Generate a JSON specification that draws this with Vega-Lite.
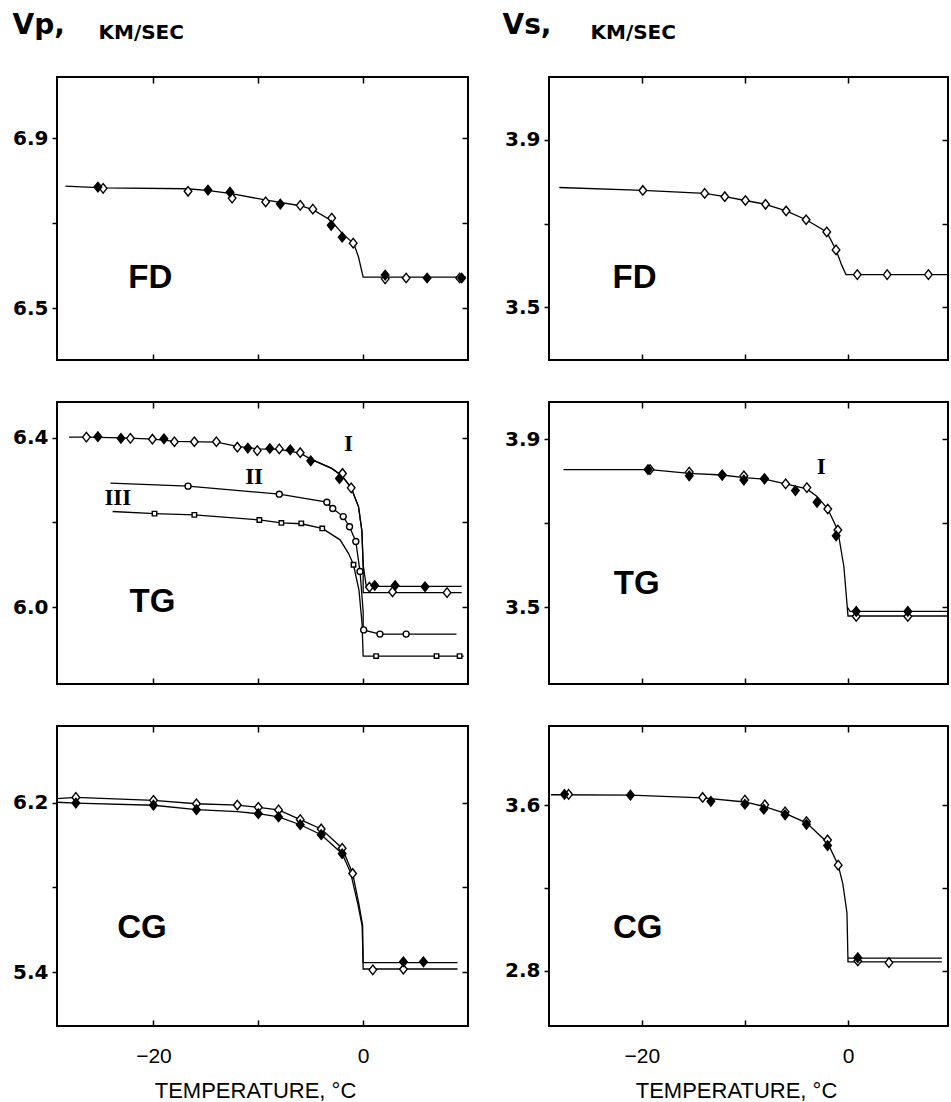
{
"$schema":"https://vega.github.io/schema/vega-lite/v6.json",
"background":"white",
"autosize":{"type":"none"},
"padding":{"left":57,"top":77,"right":894,"bottom":1025},
"config":{
 "view":{"stroke":"black","strokeWidth":2},
 "axis":{"domain":false,"grid":false,"tickColor":"black","tickWidth":1.5,"labelColor":"black","labelFont":"DejaVu Sans","labelFontSize":20,"labelFontWeight":"bold","titleColor":"black","titleFont":"DejaVu Sans"},
 "line":{"color":"black","strokeWidth":1.3},
 "point":{"filled":true,"stroke":"black","strokeWidth":1.4,"opacity":1,"size":90}
},
"datasets":{
"curves":[
{"p":"FD-Vp","s":"a","i":1,"x":-28.4,"y":6.787},{"p":"FD-Vp","s":"a","i":2,"x":-24.8,"y":6.783},{"p":"FD-Vp","s":"a","i":3,"x":-16.8,"y":6.781},{"p":"FD-Vp","s":"a","i":4,"x":-14.9,"y":6.777},{"p":"FD-Vp","s":"a","i":5,"x":-12.7,"y":6.770},{"p":"FD-Vp","s":"a","i":6,"x":-9.2,"y":6.754},{"p":"FD-Vp","s":"a","i":7,"x":-6.0,"y":6.741},{"p":"FD-Vp","s":"a","i":8,"x":-4.8,"y":6.732},{"p":"FD-Vp","s":"a","i":9,"x":-3.1,"y":6.707},{"p":"FD-Vp","s":"a","i":10,"x":-2.0,"y":6.676},{"p":"FD-Vp","s":"a","i":11,"x":-0.9,"y":6.652},{"p":"FD-Vp","s":"a","i":12,"x":-0.45,"y":6.621},{"p":"FD-Vp","s":"a","i":13,"x":0,"y":6.573},{"p":"FD-Vp","s":"a","i":14,"x":9.8,"y":6.573},
{"p":"FD-Vs","s":"a","i":1,"x":-28.0,"y":3.786},{"p":"FD-Vs","s":"a","i":2,"x":-19.9,"y":3.779},{"p":"FD-Vs","s":"a","i":3,"x":-13.9,"y":3.772},{"p":"FD-Vs","s":"a","i":4,"x":-11.95,"y":3.764},{"p":"FD-Vs","s":"a","i":5,"x":-9.95,"y":3.755},{"p":"FD-Vs","s":"a","i":6,"x":-8.0,"y":3.746},{"p":"FD-Vs","s":"a","i":7,"x":-6.0,"y":3.730},{"p":"FD-Vs","s":"a","i":8,"x":-4.06,"y":3.709},{"p":"FD-Vs","s":"a","i":9,"x":-2.06,"y":3.680},{"p":"FD-Vs","s":"a","i":10,"x":-1.16,"y":3.637},{"p":"FD-Vs","s":"a","i":11,"x":-0.6,"y":3.600},{"p":"FD-Vs","s":"a","i":12,"x":-0.2,"y":3.578},{"p":"FD-Vs","s":"a","i":13,"x":9.7,"y":3.578},
{"p":"TG-Vp","s":"Ia","i":1,"x":-28.05,"y":6.402},{"p":"TG-Vp","s":"Ia","i":2,"x":-26.4,"y":6.402},{"p":"TG-Vp","s":"Ia","i":3,"x":-23.0,"y":6.400},{"p":"TG-Vp","s":"Ia","i":4,"x":-20.0,"y":6.397},{"p":"TG-Vp","s":"Ia","i":5,"x":-18.0,"y":6.392},{"p":"TG-Vp","s":"Ia","i":6,"x":-14.0,"y":6.390},{"p":"TG-Vp","s":"Ia","i":7,"x":-12.0,"y":6.380},{"p":"TG-Vp","s":"Ia","i":8,"x":-10.0,"y":6.374},{"p":"TG-Vp","s":"Ia","i":9,"x":-8.0,"y":6.373},{"p":"TG-Vp","s":"Ia","i":10,"x":-6.0,"y":6.364},{"p":"TG-Vp","s":"Ia","i":11,"x":-5.0,"y":6.350},{"p":"TG-Vp","s":"Ia","i":12,"x":-3.0,"y":6.328},{"p":"TG-Vp","s":"Ia","i":13,"x":-2.0,"y":6.310},{"p":"TG-Vp","s":"Ia","i":14,"x":-1.14,"y":6.282},{"p":"TG-Vp","s":"Ia","i":15,"x":-0.44,"y":6.237},{"p":"TG-Vp","s":"Ia","i":16,"x":-0.12,"y":6.180},{"p":"TG-Vp","s":"Ia","i":17,"x":0,"y":6.100},{"p":"TG-Vp","s":"Ia","i":18,"x":0,"y":6.034},{"p":"TG-Vp","s":"Ia","i":19,"x":9.4,"y":6.034},
{"p":"TG-Vp","s":"Ib","i":1,"x":-5.0,"y":6.350},{"p":"TG-Vp","s":"Ib","i":2,"x":-3.0,"y":6.328},{"p":"TG-Vp","s":"Ib","i":3,"x":-2.0,"y":6.310},{"p":"TG-Vp","s":"Ib","i":4,"x":-1.14,"y":6.282},{"p":"TG-Vp","s":"Ib","i":5,"x":-0.44,"y":6.237},{"p":"TG-Vp","s":"Ib","i":6,"x":-0.12,"y":6.180},{"p":"TG-Vp","s":"Ib","i":7,"x":0,"y":6.100},{"p":"TG-Vp","s":"Ib","i":8,"x":0.3,"y":6.049},{"p":"TG-Vp","s":"Ib","i":9,"x":9.4,"y":6.049},
{"p":"TG-Vp","s":"II","i":1,"x":-24.1,"y":6.293},{"p":"TG-Vp","s":"II","i":2,"x":-16.7,"y":6.286},{"p":"TG-Vp","s":"II","i":3,"x":-8.0,"y":6.267},{"p":"TG-Vp","s":"II","i":4,"x":-3.46,"y":6.248},{"p":"TG-Vp","s":"II","i":5,"x":-2.9,"y":6.233},{"p":"TG-Vp","s":"II","i":6,"x":-1.9,"y":6.214},{"p":"TG-Vp","s":"II","i":7,"x":-1.3,"y":6.190},{"p":"TG-Vp","s":"II","i":8,"x":-0.7,"y":6.155},{"p":"TG-Vp","s":"II","i":9,"x":-0.3,"y":6.084},{"p":"TG-Vp","s":"II","i":10,"x":0,"y":5.990},{"p":"TG-Vp","s":"II","i":11,"x":0,"y":5.946},{"p":"TG-Vp","s":"II","i":12,"x":1.6,"y":5.936},{"p":"TG-Vp","s":"II","i":13,"x":8.9,"y":5.936},
{"p":"TG-Vp","s":"III","i":1,"x":-23.9,"y":6.226},{"p":"TG-Vp","s":"III","i":2,"x":-19.9,"y":6.221},{"p":"TG-Vp","s":"III","i":3,"x":-16.1,"y":6.218},{"p":"TG-Vp","s":"III","i":4,"x":-9.9,"y":6.206},{"p":"TG-Vp","s":"III","i":5,"x":-7.8,"y":6.199},{"p":"TG-Vp","s":"III","i":6,"x":-5.9,"y":6.197},{"p":"TG-Vp","s":"III","i":7,"x":-3.9,"y":6.186},{"p":"TG-Vp","s":"III","i":8,"x":-2.2,"y":6.159},{"p":"TG-Vp","s":"III","i":9,"x":-1.4,"y":6.127},{"p":"TG-Vp","s":"III","i":10,"x":-0.92,"y":6.100},{"p":"TG-Vp","s":"III","i":11,"x":-0.4,"y":6.040},{"p":"TG-Vp","s":"III","i":12,"x":-0.1,"y":5.960},{"p":"TG-Vp","s":"III","i":13,"x":0,"y":5.884},{"p":"TG-Vp","s":"III","i":14,"x":9.6,"y":5.884},
{"p":"TG-Vs","s":"Ia","i":1,"x":-27.6,"y":3.828},{"p":"TG-Vs","s":"Ia","i":2,"x":-19.2,"y":3.828},{"p":"TG-Vs","s":"Ia","i":3,"x":-15.4,"y":3.819},{"p":"TG-Vs","s":"Ia","i":4,"x":-12.2,"y":3.815},{"p":"TG-Vs","s":"Ia","i":5,"x":-10.1,"y":3.809},{"p":"TG-Vs","s":"Ia","i":6,"x":-8.1,"y":3.805},{"p":"TG-Vs","s":"Ia","i":7,"x":-6.05,"y":3.794},{"p":"TG-Vs","s":"Ia","i":8,"x":-4.0,"y":3.782},{"p":"TG-Vs","s":"Ia","i":9,"x":-3.0,"y":3.764},{"p":"TG-Vs","s":"Ia","i":10,"x":-1.96,"y":3.734},{"p":"TG-Vs","s":"Ia","i":11,"x":-1.0,"y":3.684},{"p":"TG-Vs","s":"Ia","i":12,"x":-0.4,"y":3.597},{"p":"TG-Vs","s":"Ia","i":13,"x":-0.07,"y":3.500},{"p":"TG-Vs","s":"Ia","i":14,"x":0,"y":3.479},{"p":"TG-Vs","s":"Ia","i":15,"x":9.7,"y":3.479},
{"p":"TG-Vs","s":"Ib","i":1,"x":-0.07,"y":3.500},{"p":"TG-Vs","s":"Ib","i":2,"x":0.2,"y":3.490},{"p":"TG-Vs","s":"Ib","i":3,"x":9.7,"y":3.490},
{"p":"CG-Vp","s":"a","i":1,"x":-29.2,"y":6.219},{"p":"CG-Vp","s":"a","i":2,"x":-27.4,"y":6.225},{"p":"CG-Vp","s":"a","i":3,"x":-20.0,"y":6.211},{"p":"CG-Vp","s":"a","i":4,"x":-15.9,"y":6.195},{"p":"CG-Vp","s":"a","i":5,"x":-12.0,"y":6.189},{"p":"CG-Vp","s":"a","i":6,"x":-10.0,"y":6.178},{"p":"CG-Vp","s":"a","i":7,"x":-8.07,"y":6.166},{"p":"CG-Vp","s":"a","i":8,"x":-6.0,"y":6.120},{"p":"CG-Vp","s":"a","i":9,"x":-4.0,"y":6.076},{"p":"CG-Vp","s":"a","i":10,"x":-2.0,"y":5.985},{"p":"CG-Vp","s":"a","i":11,"x":-1.0,"y":5.866},{"p":"CG-Vp","s":"a","i":12,"x":-0.4,"y":5.720},{"p":"CG-Vp","s":"a","i":13,"x":-0.05,"y":5.620},{"p":"CG-Vp","s":"a","i":14,"x":0,"y":5.415},{"p":"CG-Vp","s":"a","i":15,"x":9.0,"y":5.415},
{"p":"CG-Vp","s":"b","i":1,"x":-29.2,"y":6.202},{"p":"CG-Vp","s":"b","i":2,"x":-27.4,"y":6.198},{"p":"CG-Vp","s":"b","i":3,"x":-20.0,"y":6.188},{"p":"CG-Vp","s":"b","i":4,"x":-15.9,"y":6.167},{"p":"CG-Vp","s":"b","i":5,"x":-12.0,"y":6.158},{"p":"CG-Vp","s":"b","i":6,"x":-10.0,"y":6.148},{"p":"CG-Vp","s":"b","i":7,"x":-8.07,"y":6.133},{"p":"CG-Vp","s":"b","i":8,"x":-6.0,"y":6.096},{"p":"CG-Vp","s":"b","i":9,"x":-4.0,"y":6.049},{"p":"CG-Vp","s":"b","i":10,"x":-2.0,"y":5.959},{"p":"CG-Vp","s":"b","i":11,"x":-1.2,"y":5.870},{"p":"CG-Vp","s":"b","i":12,"x":-0.5,"y":5.720},{"p":"CG-Vp","s":"b","i":13,"x":-0.1,"y":5.620},{"p":"CG-Vp","s":"b","i":14,"x":0,"y":5.445},{"p":"CG-Vp","s":"b","i":15,"x":9.0,"y":5.445},
{"p":"CG-Vs","s":"a","i":1,"x":-28.8,"y":3.652},{"p":"CG-Vs","s":"a","i":2,"x":-21.1,"y":3.650},{"p":"CG-Vs","s":"a","i":3,"x":-14.1,"y":3.637},{"p":"CG-Vs","s":"a","i":4,"x":-10.0,"y":3.617},{"p":"CG-Vs","s":"a","i":5,"x":-8.07,"y":3.594},{"p":"CG-Vs","s":"a","i":6,"x":-6.1,"y":3.562},{"p":"CG-Vs","s":"a","i":7,"x":-4.03,"y":3.516},{"p":"CG-Vs","s":"a","i":8,"x":-1.98,"y":3.420},{"p":"CG-Vs","s":"a","i":9,"x":-0.95,"y":3.311},{"p":"CG-Vs","s":"a","i":10,"x":-0.5,"y":3.220},{"p":"CG-Vs","s":"a","i":11,"x":-0.1,"y":3.080},{"p":"CG-Vs","s":"a","i":12,"x":0,"y":2.843},{"p":"CG-Vs","s":"a","i":13,"x":9.1,"y":2.843},
{"p":"CG-Vs","s":"b","i":1,"x":0,"y":2.861},{"p":"CG-Vs","s":"b","i":2,"x":9.1,"y":2.861}
],
"points":[
{"p":"FD-Vp","m":"o","x":-24.8,"y":6.782},{"p":"FD-Vp","m":"o","x":-16.7,"y":6.775},{"p":"FD-Vp","m":"o","x":-12.5,"y":6.759},{"p":"FD-Vp","m":"o","x":-9.3,"y":6.750},{"p":"FD-Vp","m":"o","x":-6.0,"y":6.742},{"p":"FD-Vp","m":"o","x":-4.8,"y":6.733},{"p":"FD-Vp","m":"o","x":-3.0,"y":6.712},{"p":"FD-Vp","m":"o","x":-0.95,"y":6.653},{"p":"FD-Vp","m":"o","x":2.1,"y":6.569},{"p":"FD-Vp","m":"o","x":4.1,"y":6.571},{"p":"FD-Vp","m":"o","x":9.2,"y":6.571},
{"p":"FD-Vp","m":"f","x":-25.3,"y":6.785},{"p":"FD-Vp","m":"f","x":-14.8,"y":6.778},{"p":"FD-Vp","m":"f","x":-12.7,"y":6.773},{"p":"FD-Vp","m":"f","x":-7.9,"y":6.745},{"p":"FD-Vp","m":"f","x":-3.05,"y":6.695},{"p":"FD-Vp","m":"f","x":-2.0,"y":6.667},{"p":"FD-Vp","m":"f","x":2.1,"y":6.578},{"p":"FD-Vp","m":"f","x":6.1,"y":6.571},{"p":"FD-Vp","m":"f","x":9.4,"y":6.571},
{"p":"FD-Vs","m":"o","x":-19.9,"y":3.779},{"p":"FD-Vs","m":"o","x":-13.9,"y":3.772},{"p":"FD-Vs","m":"o","x":-11.95,"y":3.764},{"p":"FD-Vs","m":"o","x":-9.95,"y":3.755},{"p":"FD-Vs","m":"o","x":-8.0,"y":3.746},{"p":"FD-Vs","m":"o","x":-6.0,"y":3.730},{"p":"FD-Vs","m":"o","x":-4.06,"y":3.709},{"p":"FD-Vs","m":"o","x":-2.06,"y":3.680},{"p":"FD-Vs","m":"o","x":-1.16,"y":3.637},{"p":"FD-Vs","m":"o","x":0.9,"y":3.578},{"p":"FD-Vs","m":"o","x":3.8,"y":3.578},{"p":"FD-Vs","m":"o","x":7.8,"y":3.578},
{"p":"TG-Vp","m":"o","x":-26.4,"y":6.402},{"p":"TG-Vp","m":"o","x":-22.2,"y":6.399},{"p":"TG-Vp","m":"o","x":-20.1,"y":6.397},{"p":"TG-Vp","m":"o","x":-18.0,"y":6.391},{"p":"TG-Vp","m":"o","x":-16.1,"y":6.391},{"p":"TG-Vp","m":"o","x":-14.0,"y":6.391},{"p":"TG-Vp","m":"o","x":-12.0,"y":6.378},{"p":"TG-Vp","m":"o","x":-10.1,"y":6.370},{"p":"TG-Vp","m":"o","x":-8.0,"y":6.374},{"p":"TG-Vp","m":"o","x":-6.0,"y":6.365},{"p":"TG-Vp","m":"o","x":-1.97,"y":6.316},{"p":"TG-Vp","m":"o","x":-1.14,"y":6.282},{"p":"TG-Vp","m":"o","x":0.6,"y":6.047},{"p":"TG-Vp","m":"o","x":2.8,"y":6.036},{"p":"TG-Vp","m":"o","x":8.0,"y":6.034},
{"p":"TG-Vp","m":"f","x":-25.3,"y":6.403},{"p":"TG-Vp","m":"f","x":-23.1,"y":6.399},{"p":"TG-Vp","m":"f","x":-19.0,"y":6.398},{"p":"TG-Vp","m":"f","x":-11.0,"y":6.376},{"p":"TG-Vp","m":"f","x":-8.9,"y":6.375},{"p":"TG-Vp","m":"f","x":-6.95,"y":6.372},{"p":"TG-Vp","m":"f","x":-5.0,"y":6.346},{"p":"TG-Vp","m":"f","x":-2.26,"y":6.304},{"p":"TG-Vp","m":"f","x":1.1,"y":6.051},{"p":"TG-Vp","m":"f","x":3.05,"y":6.051},{"p":"TG-Vp","m":"f","x":5.9,"y":6.048},
{"p":"TG-Vp","m":"c","x":-16.7,"y":6.286},{"p":"TG-Vp","m":"c","x":-8.0,"y":6.267},{"p":"TG-Vp","m":"c","x":-3.46,"y":6.248},{"p":"TG-Vp","m":"c","x":-2.9,"y":6.233},{"p":"TG-Vp","m":"c","x":-1.9,"y":6.214},{"p":"TG-Vp","m":"c","x":-1.3,"y":6.190},{"p":"TG-Vp","m":"c","x":-0.7,"y":6.155},{"p":"TG-Vp","m":"c","x":-0.3,"y":6.084},{"p":"TG-Vp","m":"c","x":0.05,"y":5.946},{"p":"TG-Vp","m":"c","x":1.6,"y":5.936},{"p":"TG-Vp","m":"c","x":4.1,"y":5.936},
{"p":"TG-Vp","m":"q","x":-19.9,"y":6.221},{"p":"TG-Vp","m":"q","x":-16.1,"y":6.218},{"p":"TG-Vp","m":"q","x":-9.9,"y":6.206},{"p":"TG-Vp","m":"q","x":-7.8,"y":6.199},{"p":"TG-Vp","m":"q","x":-5.9,"y":6.198},{"p":"TG-Vp","m":"q","x":-3.9,"y":6.186},{"p":"TG-Vp","m":"q","x":-0.92,"y":6.100},{"p":"TG-Vp","m":"q","x":1.24,"y":5.884},{"p":"TG-Vp","m":"q","x":7.0,"y":5.884},{"p":"TG-Vp","m":"q","x":9.2,"y":5.884},
{"p":"TG-Vs","m":"o","x":-19.2,"y":3.828},{"p":"TG-Vs","m":"o","x":-15.4,"y":3.822},{"p":"TG-Vs","m":"o","x":-12.2,"y":3.815},{"p":"TG-Vs","m":"o","x":-10.1,"y":3.813},{"p":"TG-Vs","m":"o","x":-8.1,"y":3.806},{"p":"TG-Vs","m":"o","x":-6.05,"y":3.794},{"p":"TG-Vs","m":"o","x":-3.99,"y":3.785},{"p":"TG-Vs","m":"o","x":-1.96,"y":3.734},{"p":"TG-Vs","m":"o","x":-0.98,"y":3.684},{"p":"TG-Vs","m":"o","x":0.8,"y":3.478},{"p":"TG-Vs","m":"o","x":5.8,"y":3.478},
{"p":"TG-Vs","m":"f","x":-19.4,"y":3.828},{"p":"TG-Vs","m":"f","x":-15.4,"y":3.813},{"p":"TG-Vs","m":"f","x":-12.2,"y":3.815},{"p":"TG-Vs","m":"f","x":-10.1,"y":3.803},{"p":"TG-Vs","m":"f","x":-8.1,"y":3.806},{"p":"TG-Vs","m":"f","x":-5.1,"y":3.778},{"p":"TG-Vs","m":"f","x":-3.0,"y":3.750},{"p":"TG-Vs","m":"f","x":-1.15,"y":3.670},{"p":"TG-Vs","m":"f","x":0.8,"y":3.490},{"p":"TG-Vs","m":"f","x":5.8,"y":3.490},
{"p":"CG-Vp","m":"o","x":-27.4,"y":6.225},{"p":"CG-Vp","m":"o","x":-20.0,"y":6.211},{"p":"CG-Vp","m":"o","x":-15.9,"y":6.195},{"p":"CG-Vp","m":"o","x":-12.0,"y":6.189},{"p":"CG-Vp","m":"o","x":-10.0,"y":6.178},{"p":"CG-Vp","m":"o","x":-8.07,"y":6.166},{"p":"CG-Vp","m":"o","x":-6.0,"y":6.120},{"p":"CG-Vp","m":"o","x":-4.0,"y":6.076},{"p":"CG-Vp","m":"o","x":-2.0,"y":5.985},{"p":"CG-Vp","m":"o","x":-1.0,"y":5.866},{"p":"CG-Vp","m":"o","x":0.92,"y":5.411},{"p":"CG-Vp","m":"o","x":3.84,"y":5.414},
{"p":"CG-Vp","m":"f","x":-27.4,"y":6.198},{"p":"CG-Vp","m":"f","x":-20.0,"y":6.188},{"p":"CG-Vp","m":"f","x":-15.9,"y":6.167},{"p":"CG-Vp","m":"f","x":-10.0,"y":6.148},{"p":"CG-Vp","m":"f","x":-8.07,"y":6.133},{"p":"CG-Vp","m":"f","x":-6.0,"y":6.096},{"p":"CG-Vp","m":"f","x":-4.0,"y":6.049},{"p":"CG-Vp","m":"f","x":-2.0,"y":5.959},{"p":"CG-Vp","m":"f","x":3.84,"y":5.449},{"p":"CG-Vp","m":"f","x":5.75,"y":5.449},
{"p":"CG-Vs","m":"o","x":-27.1,"y":3.654},{"p":"CG-Vs","m":"o","x":-14.1,"y":3.639},{"p":"CG-Vs","m":"o","x":-10.0,"y":3.626},{"p":"CG-Vs","m":"o","x":-8.07,"y":3.603},{"p":"CG-Vs","m":"o","x":-6.1,"y":3.569},{"p":"CG-Vs","m":"o","x":-4.03,"y":3.522},{"p":"CG-Vs","m":"o","x":-1.98,"y":3.433},{"p":"CG-Vs","m":"o","x":-0.95,"y":3.311},{"p":"CG-Vs","m":"o","x":0.95,"y":2.847},{"p":"CG-Vs","m":"o","x":3.97,"y":2.839},
{"p":"CG-Vs","m":"f","x":-27.5,"y":3.654},{"p":"CG-Vs","m":"f","x":-21.1,"y":3.650},{"p":"CG-Vs","m":"f","x":-13.3,"y":3.620},{"p":"CG-Vs","m":"f","x":-10.0,"y":3.606},{"p":"CG-Vs","m":"f","x":-8.17,"y":3.582},{"p":"CG-Vs","m":"f","x":-6.1,"y":3.555},{"p":"CG-Vs","m":"f","x":-4.03,"y":3.509},{"p":"CG-Vs","m":"f","x":-1.98,"y":3.406},{"p":"CG-Vs","m":"f","x":0.95,"y":2.863}
],
"labels":[
{"p":"FD-Vp","k":"n","t":"FD","x":-20.3,"y":6.570},
{"p":"FD-Vs","k":"n","t":"FD","x":-20.7,"y":3.571},
{"p":"TG-Vp","k":"n","t":"TG","x":-20.1,"y":6.011},
{"p":"TG-Vp","k":"r","t":"I","x":-1.4,"y":6.386},
{"p":"TG-Vp","k":"r","t":"II","x":-10.4,"y":6.308},
{"p":"TG-Vp","k":"r","t":"III","x":-23.4,"y":6.258},
{"p":"TG-Vs","k":"n","t":"TG","x":-20.5,"y":3.555},
{"p":"TG-Vs","k":"r","t":"I","x":-2.6,"y":3.835},
{"p":"CG-Vp","k":"n","t":"CG","x":-21.1,"y":5.610},
{"p":"CG-Vs","k":"n","t":"CG","x":-20.4,"y":3.005}
]
},
"columns":2,
"spacing":{"row":42,"column":81},
"bounds":"flush",
"align":"each",
"concat":[
{"width":411,"height":283,
 "layer":[
  {"data":{"name":"curves"},"transform":[{"filter":"datum.p==='FD-Vp'"}],"mark":{"type":"line"},
   "encoding":{"x":{"field":"x","type":"quantitative","scale":{"domain":[-29.2,10],"nice":false,"zero":false},"axis":{"orient":"bottom","values":[-20,-10,0],"labels":false,"tickSize":-6,"title":null}},
    "y":{"field":"y","type":"quantitative","scale":{"domain":[6.378,7.044],"nice":false,"zero":false},"axis":{"orient":"left","values":[6.5,6.7,6.9],"labelExpr":"abs(datum.value-6.7)<0.01?'':format(datum.value,'.1f')","tickSize":5,"labelPadding":4,"title":"Vp,","titleAngle":0,"titleX":-45,"titleY":-44,"titleAlign":"left","titleBaseline":"alphabetic","titleFontSize":28,"titleFontWeight":"bold"}},
    "detail":{"field":"s"},"order":{"field":"i","type":"quantitative"}}},
  {"data":{"name":"points"},"transform":[{"filter":"datum.p==='FD-Vp'"}],"mark":{"type":"point"},
   "encoding":{"x":{"field":"x","type":"quantitative","scale":{"domain":[-29.2,10],"nice":false,"zero":false},"axis":{"orient":"top","values":[-20,-10,0],"labels":false,"tickSize":-6,"title":"KM/SEC","titleX":41,"titleY":-39,"titleAlign":"left","titleBaseline":"alphabetic","titleFontSize":20,"titleFontWeight":"bold","titleAngle":0}},
    "y":{"field":"y","type":"quantitative","scale":{"domain":[6.378,7.044],"nice":false,"zero":false},"axis":{"orient":"right","values":[6.5,6.7,6.9],"labels":false,"tickSize":-6,"title":null}},
    "shape":{"field":"m","type":"nominal","scale":{"domain":["o","f","c","q"],"range":["M-0.8,0L0,-1L0.8,0L0,1Z","M-0.8,0L0,-1L0.8,0L0,1Z","M0.63,0A0.63,0.63,0,1,1,-0.63,0A0.63,0.63,0,1,1,0.63,0Z","M-0.47,-0.47L0.47,-0.47L0.47,0.47L-0.47,0.47Z"]},"legend":null},
    "fill":{"field":"m","type":"nominal","scale":{"domain":["o","f","c","q"],"range":["white","black","white","white"]},"legend":null}}},
  {"data":{"name":"labels"},"transform":[{"filter":"datum.p==='FD-Vp' && datum.k==='n'"}],"mark":{"type":"text","font":"Liberation Sans","fontWeight":"bold","fontSize":33,"color":"black"},
   "encoding":{"x":{"field":"x","type":"quantitative","scale":{"domain":[-29.2,10],"nice":false,"zero":false},"axis":null},"y":{"field":"y","type":"quantitative","scale":{"domain":[6.378,7.044],"nice":false,"zero":false},"axis":null},"text":{"field":"t"}}}
 ],
 "resolve":{"axis":{"x":"independent","y":"independent"}}},
{"width":399,"height":283,
 "layer":[
  {"data":{"name":"curves"},"transform":[{"filter":"datum.p==='FD-Vs'"}],"mark":{"type":"line"},
   "encoding":{"x":{"field":"x","type":"quantitative","scale":{"domain":[-29,9.7],"nice":false,"zero":false},"axis":{"orient":"bottom","values":[-20,-10,0],"labels":false,"tickSize":-6,"title":null}},
    "y":{"field":"y","type":"quantitative","scale":{"domain":[3.374,4.05],"nice":false,"zero":false},"axis":{"orient":"left","values":[3.5,3.7,3.9],"labelExpr":"abs(datum.value-3.7)<0.01?'':format(datum.value,'.1f')","tickSize":5,"labelPadding":4,"title":"Vs,","titleAngle":0,"titleX":-47,"titleY":-44,"titleAlign":"left","titleBaseline":"alphabetic","titleFontSize":28,"titleFontWeight":"bold"}},
    "detail":{"field":"s"},"order":{"field":"i","type":"quantitative"}}},
  {"data":{"name":"points"},"transform":[{"filter":"datum.p==='FD-Vs'"}],"mark":{"type":"point"},
   "encoding":{"x":{"field":"x","type":"quantitative","scale":{"domain":[-29,9.7],"nice":false,"zero":false},"axis":{"orient":"top","values":[-20,-10,0],"labels":false,"tickSize":-6,"title":"KM/SEC","titleX":41,"titleY":-39,"titleAlign":"left","titleBaseline":"alphabetic","titleFontSize":20,"titleFontWeight":"bold","titleAngle":0}},
    "y":{"field":"y","type":"quantitative","scale":{"domain":[3.374,4.05],"nice":false,"zero":false},"axis":{"orient":"right","values":[3.5,3.7,3.9],"labels":false,"tickSize":-6,"title":null}},
    "shape":{"field":"m","type":"nominal","scale":{"domain":["o","f","c","q"],"range":["M-0.8,0L0,-1L0.8,0L0,1Z","M-0.8,0L0,-1L0.8,0L0,1Z","M0.63,0A0.63,0.63,0,1,1,-0.63,0A0.63,0.63,0,1,1,0.63,0Z","M-0.47,-0.47L0.47,-0.47L0.47,0.47L-0.47,0.47Z"]},"legend":null},
    "fill":{"field":"m","type":"nominal","scale":{"domain":["o","f","c","q"],"range":["white","black","white","white"]},"legend":null}}},
  {"data":{"name":"labels"},"transform":[{"filter":"datum.p==='FD-Vs' && datum.k==='n'"}],"mark":{"type":"text","font":"Liberation Sans","fontWeight":"bold","fontSize":33,"color":"black"},
   "encoding":{"x":{"field":"x","type":"quantitative","scale":{"domain":[-29,9.7],"nice":false,"zero":false},"axis":null},"y":{"field":"y","type":"quantitative","scale":{"domain":[3.374,4.05],"nice":false,"zero":false},"axis":null},"text":{"field":"t"}}}
 ],
 "resolve":{"axis":{"x":"independent","y":"independent"}}},
{"width":411,"height":282,
 "layer":[
  {"data":{"name":"curves"},"transform":[{"filter":"datum.p==='TG-Vp'"}],"mark":{"type":"line"},
   "encoding":{"x":{"field":"x","type":"quantitative","scale":{"domain":[-29.2,10],"nice":false,"zero":false},"axis":{"orient":"bottom","values":[-20,-10,0],"labels":false,"tickSize":-6,"title":null}},
    "y":{"field":"y","type":"quantitative","scale":{"domain":[5.818,6.485],"nice":false,"zero":false},"axis":{"orient":"left","values":[6.0,6.2,6.4],"labelExpr":"abs(datum.value-6.2)<0.01?'':format(datum.value,'.1f')","tickSize":5,"labelPadding":4,"title":null}},
    "detail":{"field":"s"},"order":{"field":"i","type":"quantitative"}}},
  {"data":{"name":"points"},"transform":[{"filter":"datum.p==='TG-Vp'"}],"mark":{"type":"point"},
   "encoding":{"x":{"field":"x","type":"quantitative","scale":{"domain":[-29.2,10],"nice":false,"zero":false},"axis":{"orient":"top","values":[-20,-10,0],"labels":false,"tickSize":-6,"title":null}},
    "y":{"field":"y","type":"quantitative","scale":{"domain":[5.818,6.485],"nice":false,"zero":false},"axis":{"orient":"right","values":[6.0,6.2,6.4],"labels":false,"tickSize":-6,"title":null}},
    "shape":{"field":"m","type":"nominal","scale":{"domain":["o","f","c","q"],"range":["M-0.8,0L0,-1L0.8,0L0,1Z","M-0.8,0L0,-1L0.8,0L0,1Z","M0.63,0A0.63,0.63,0,1,1,-0.63,0A0.63,0.63,0,1,1,0.63,0Z","M-0.47,-0.47L0.47,-0.47L0.47,0.47L-0.47,0.47Z"]},"legend":null},
    "fill":{"field":"m","type":"nominal","scale":{"domain":["o","f","c","q"],"range":["white","black","white","white"]},"legend":null}}},
  {"data":{"name":"labels"},"transform":[{"filter":"datum.p==='TG-Vp' && datum.k==='n'"}],"mark":{"type":"text","font":"Liberation Sans","fontWeight":"bold","fontSize":33,"color":"black"},
   "encoding":{"x":{"field":"x","type":"quantitative","scale":{"domain":[-29.2,10],"nice":false,"zero":false},"axis":null},"y":{"field":"y","type":"quantitative","scale":{"domain":[5.818,6.485],"nice":false,"zero":false},"axis":null},"text":{"field":"t"}}},
  {"data":{"name":"labels"},"transform":[{"filter":"datum.p==='TG-Vp' && datum.k==='r'"}],"mark":{"type":"text","font":"Liberation Serif","fontWeight":"bold","fontSize":23,"color":"black"},
   "encoding":{"x":{"field":"x","type":"quantitative","scale":{"domain":[-29.2,10],"nice":false,"zero":false},"axis":null},"y":{"field":"y","type":"quantitative","scale":{"domain":[5.818,6.485],"nice":false,"zero":false},"axis":null},"text":{"field":"t"}}}
 ],
 "resolve":{"axis":{"x":"independent","y":"independent"}}},
{"width":399,"height":282,
 "layer":[
  {"data":{"name":"curves"},"transform":[{"filter":"datum.p==='TG-Vs'"}],"mark":{"type":"line"},
   "encoding":{"x":{"field":"x","type":"quantitative","scale":{"domain":[-29,9.7],"nice":false,"zero":false},"axis":{"orient":"bottom","values":[-20,-10,0],"labels":false,"tickSize":-6,"title":null}},
    "y":{"field":"y","type":"quantitative","scale":{"domain":[3.317,3.989],"nice":false,"zero":false},"axis":{"orient":"left","values":[3.5,3.7,3.9],"labelExpr":"abs(datum.value-3.7)<0.01?'':format(datum.value,'.1f')","tickSize":5,"labelPadding":4,"title":null}},
    "detail":{"field":"s"},"order":{"field":"i","type":"quantitative"}}},
  {"data":{"name":"points"},"transform":[{"filter":"datum.p==='TG-Vs'"}],"mark":{"type":"point"},
   "encoding":{"x":{"field":"x","type":"quantitative","scale":{"domain":[-29,9.7],"nice":false,"zero":false},"axis":{"orient":"top","values":[-20,-10,0],"labels":false,"tickSize":-6,"title":null}},
    "y":{"field":"y","type":"quantitative","scale":{"domain":[3.317,3.989],"nice":false,"zero":false},"axis":{"orient":"right","values":[3.5,3.7,3.9],"labels":false,"tickSize":-6,"title":null}},
    "shape":{"field":"m","type":"nominal","scale":{"domain":["o","f","c","q"],"range":["M-0.8,0L0,-1L0.8,0L0,1Z","M-0.8,0L0,-1L0.8,0L0,1Z","M0.63,0A0.63,0.63,0,1,1,-0.63,0A0.63,0.63,0,1,1,0.63,0Z","M-0.47,-0.47L0.47,-0.47L0.47,0.47L-0.47,0.47Z"]},"legend":null},
    "fill":{"field":"m","type":"nominal","scale":{"domain":["o","f","c","q"],"range":["white","black","white","white"]},"legend":null}}},
  {"data":{"name":"labels"},"transform":[{"filter":"datum.p==='TG-Vs' && datum.k==='n'"}],"mark":{"type":"text","font":"Liberation Sans","fontWeight":"bold","fontSize":33,"color":"black"},
   "encoding":{"x":{"field":"x","type":"quantitative","scale":{"domain":[-29,9.7],"nice":false,"zero":false},"axis":null},"y":{"field":"y","type":"quantitative","scale":{"domain":[3.317,3.989],"nice":false,"zero":false},"axis":null},"text":{"field":"t"}}},
  {"data":{"name":"labels"},"transform":[{"filter":"datum.p==='TG-Vs' && datum.k==='r'"}],"mark":{"type":"text","font":"Liberation Serif","fontWeight":"bold","fontSize":23,"color":"black"},
   "encoding":{"x":{"field":"x","type":"quantitative","scale":{"domain":[-29,9.7],"nice":false,"zero":false},"axis":null},"y":{"field":"y","type":"quantitative","scale":{"domain":[3.317,3.989],"nice":false,"zero":false},"axis":null},"text":{"field":"t"}}}
 ],
 "resolve":{"axis":{"x":"independent","y":"independent"}}},
{"width":411,"height":300,
 "layer":[
  {"data":{"name":"curves"},"transform":[{"filter":"datum.p==='CG-Vp'"}],"mark":{"type":"line"},
   "encoding":{"x":{"field":"x","type":"quantitative","scale":{"domain":[-29.2,10],"nice":false,"zero":false},"axis":{"orient":"bottom","values":[-20,-10,0],"labelExpr":"datum.value==-10?'':(datum.value<0?'−'+abs(datum.value):''+datum.value)","tickSize":-6,"labelPadding":25,"labelFont":"Liberation Sans","labelFontWeight":"normal","labelFontSize":21,"title":"TEMPERATURE, °C","titleFont":"Liberation Sans","titleFontWeight":"normal","titleFontSize":22,"titleX":198,"titleY":54,"titleAlign":"center","titleBaseline":"top"}},
    "y":{"field":"y","type":"quantitative","scale":{"domain":[5.146,6.562],"nice":false,"zero":false},"axis":{"orient":"left","values":[5.4,5.8,6.2],"labelExpr":"abs(datum.value-5.8)<0.01?'':format(datum.value,'.1f')","tickSize":5,"labelPadding":4,"title":null}},
    "detail":{"field":"s"},"order":{"field":"i","type":"quantitative"}}},
  {"data":{"name":"points"},"transform":[{"filter":"datum.p==='CG-Vp'"}],"mark":{"type":"point"},
   "encoding":{"x":{"field":"x","type":"quantitative","scale":{"domain":[-29.2,10],"nice":false,"zero":false},"axis":{"orient":"top","values":[-20,-10,0],"labels":false,"tickSize":-6,"title":null}},
    "y":{"field":"y","type":"quantitative","scale":{"domain":[5.146,6.562],"nice":false,"zero":false},"axis":{"orient":"right","values":[5.4,5.8,6.2],"labels":false,"tickSize":-6,"title":null}},
    "shape":{"field":"m","type":"nominal","scale":{"domain":["o","f","c","q"],"range":["M-0.8,0L0,-1L0.8,0L0,1Z","M-0.8,0L0,-1L0.8,0L0,1Z","M0.63,0A0.63,0.63,0,1,1,-0.63,0A0.63,0.63,0,1,1,0.63,0Z","M-0.47,-0.47L0.47,-0.47L0.47,0.47L-0.47,0.47Z"]},"legend":null},
    "fill":{"field":"m","type":"nominal","scale":{"domain":["o","f","c","q"],"range":["white","black","white","white"]},"legend":null}}},
  {"data":{"name":"labels"},"transform":[{"filter":"datum.p==='CG-Vp' && datum.k==='n'"}],"mark":{"type":"text","font":"Liberation Sans","fontWeight":"bold","fontSize":33,"color":"black"},
   "encoding":{"x":{"field":"x","type":"quantitative","scale":{"domain":[-29.2,10],"nice":false,"zero":false},"axis":null},"y":{"field":"y","type":"quantitative","scale":{"domain":[5.146,6.562],"nice":false,"zero":false},"axis":null},"text":{"field":"t"}}}
 ],
 "resolve":{"axis":{"x":"independent","y":"independent"}}},
{"width":399,"height":300,
 "layer":[
  {"data":{"name":"curves"},"transform":[{"filter":"datum.p==='CG-Vs'"}],"mark":{"type":"line"},
   "encoding":{"x":{"field":"x","type":"quantitative","scale":{"domain":[-29,9.7],"nice":false,"zero":false},"axis":{"orient":"bottom","values":[-20,-10,0],"labelExpr":"datum.value==-10?'':(datum.value<0?'−'+abs(datum.value):''+datum.value)","tickSize":-6,"labelPadding":25,"labelFont":"Liberation Sans","labelFontWeight":"normal","labelFontSize":21,"title":"TEMPERATURE, °C","titleFont":"Liberation Sans","titleFontWeight":"normal","titleFontSize":22,"titleX":187,"titleY":54,"titleAlign":"center","titleBaseline":"top"}},
    "y":{"field":"y","type":"quantitative","scale":{"domain":[2.532,3.985],"nice":false,"zero":false},"axis":{"orient":"left","values":[2.8,3.2,3.6],"labelExpr":"abs(datum.value-3.2)<0.01?'':format(datum.value,'.1f')","tickSize":5,"labelPadding":4,"title":null}},
    "detail":{"field":"s"},"order":{"field":"i","type":"quantitative"}}},
  {"data":{"name":"points"},"transform":[{"filter":"datum.p==='CG-Vs'"}],"mark":{"type":"point"},
   "encoding":{"x":{"field":"x","type":"quantitative","scale":{"domain":[-29,9.7],"nice":false,"zero":false},"axis":{"orient":"top","values":[-20,-10,0],"labels":false,"tickSize":-6,"title":null}},
    "y":{"field":"y","type":"quantitative","scale":{"domain":[2.532,3.985],"nice":false,"zero":false},"axis":{"orient":"right","values":[2.8,3.2,3.6],"labels":false,"tickSize":-6,"title":null}},
    "shape":{"field":"m","type":"nominal","scale":{"domain":["o","f","c","q"],"range":["M-0.8,0L0,-1L0.8,0L0,1Z","M-0.8,0L0,-1L0.8,0L0,1Z","M0.63,0A0.63,0.63,0,1,1,-0.63,0A0.63,0.63,0,1,1,0.63,0Z","M-0.47,-0.47L0.47,-0.47L0.47,0.47L-0.47,0.47Z"]},"legend":null},
    "fill":{"field":"m","type":"nominal","scale":{"domain":["o","f","c","q"],"range":["white","black","white","white"]},"legend":null}}},
  {"data":{"name":"labels"},"transform":[{"filter":"datum.p==='CG-Vs' && datum.k==='n'"}],"mark":{"type":"text","font":"Liberation Sans","fontWeight":"bold","fontSize":33,"color":"black"},
   "encoding":{"x":{"field":"x","type":"quantitative","scale":{"domain":[-29,9.7],"nice":false,"zero":false},"axis":null},"y":{"field":"y","type":"quantitative","scale":{"domain":[2.532,3.985],"nice":false,"zero":false},"axis":null},"text":{"field":"t"}}}
 ],
 "resolve":{"axis":{"x":"independent","y":"independent"}}}
]
}
